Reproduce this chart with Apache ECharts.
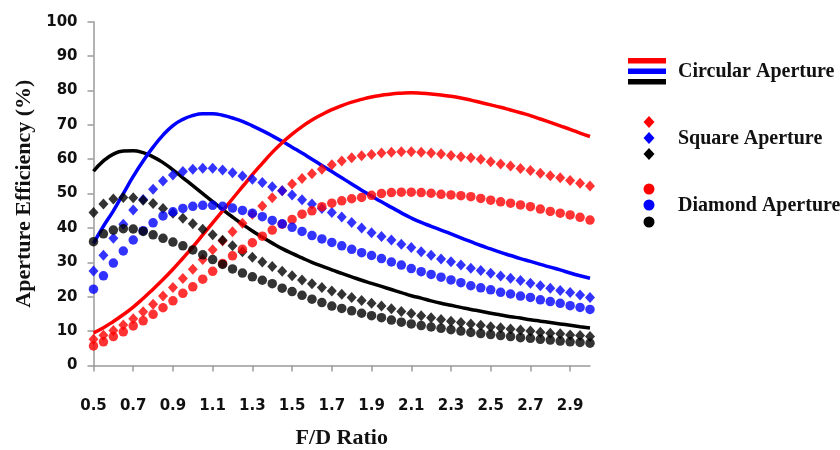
<!DOCTYPE html>
<html>
<head>
<meta charset="utf-8">
<script src="https://cdn.jsdelivr.net/npm/echarts@6/dist/echarts.min.js"></script>
<style>
html,body{margin:0;padding:0;background:#fff;}
#chart{width:840px;height:450px;}
</style>
</head>
<body>
<div id="chart"></div>
<script>
// F/D ratio categories (0.5 to 3.0, step 0.05)
const fdRatio = ['0.5','0.55','0.6','0.65','0.7','0.75','0.8','0.85','0.9','0.95',
  '1.0','1.05','1.1','1.15','1.2','1.25','1.3','1.35','1.4','1.45',
  '1.5','1.55','1.6','1.65','1.7','1.75','1.8','1.85','1.9','1.95',
  '2.0','2.05','2.1','2.15','2.2','2.25','2.3','2.35','2.4','2.45',
  '2.5','2.55','2.6','2.65','2.7','2.75','2.8','2.85','2.9','2.95','3.0'];

// Tick labels shown on the x axis
const xTickLabels = ['0.5','0.7','0.9','1.1','1.3','1.5','1.7','1.9','2.1','2.3','2.5','2.7','2.9'];
const yTicks = [0,10,20,30,40,50,60,70,80,90,100];

// Circular aperture (solid lines)
const circRed = [9.5,11,12.8,14.8,17,19.5,22.2,25,28,31.2,
  34.5,38,41.5,45,48.5,52,55.5,58.8,62,64.8,
  67.3,69.5,71.4,73,74.4,75.6,76.6,77.4,78.1,78.6,
  79,79.2,79.3,79.2,79,78.7,78.3,77.8,77.2,76.5,
  75.8,75.1,74.3,73.5,72.7,71.7,70.7,69.7,68.7,67.6,66.6];
const circBlue = [35.5,40.5,45,50,55,59.5,63.5,67,69.8,71.6,
  72.7,73.2,73.2,72.8,72,71,69.7,68.3,66.8,65.2,
  63.5,61.8,60,58.2,56.4,54.6,52.8,51,49.3,47.6,
  46,44.4,42.9,41.6,40.5,39.4,38.3,37.1,36,34.9,
  33.9,32.9,32,31.1,30.3,29.4,28.6,27.8,26.9,26.1,25.4];
const circBlack = [56.5,59.5,61.5,62.4,62.5,61.9,60.7,59,56.9,54.6,
  52.3,50,47.7,45.4,43.2,41.1,39.1,37.3,35.6,34,
  32.6,31.3,30,28.9,27.8,26.8,25.8,24.8,23.9,23,
  22.1,21.2,20.3,19.6,18.8,18.1,17.5,16.9,16.3,15.8,
  15.2,14.7,14.2,13.8,13.3,12.9,12.5,12.1,11.7,11.3,10.9];

// Square aperture (diamond markers)
const sqRed = [7.6,8.8,10.2,11.8,13.6,15.6,17.8,20.2,22.7,25.3,
  28,30.8,33.7,36.2,38.9,41.4,44,46.4,48.8,50.8,
  52.8,54.4,55.8,57.1,58.4,59.5,60.4,61,61.4,61.8,
  62,62.2,62.2,62,61.8,61.5,61.1,60.7,60.4,60,
  59.3,58.6,58,57.3,56.7,55.9,55.2,54.6,53.8,53,52.2];
const sqBlue = [27.5,32.1,37,41.1,45.2,48.3,51.3,53.7,55.4,56.4,
  57.1,57.4,57.4,56.9,56.1,55.1,54.2,53.2,52,50.8,
  49.6,48.2,47,45.7,44.5,43.2,41.6,40,38.6,37.5,
  36.5,35.3,34.3,33.1,32.1,31,30.2,29.2,28.3,27.6,
  26.8,26,25.4,24.7,23.9,23.2,22.5,21.8,21.2,20.5,19.8];
const sqBlack = [44.5,47,48.4,48.9,48.8,48.1,47.1,45.7,44.3,42.8,
  41.2,39.6,38,36.4,34.8,33.1,31.5,30.1,28.8,27.4,
  26.1,24.9,23.8,22.7,21.7,20.7,19.8,18.9,18.1,17.3,
  16.5,15.7,15.1,14.5,13.9,13.4,12.9,12.5,12.1,11.7,
  11.3,11,10.6,10.3,10,9.7,9.4,9.2,8.9,8.7,8.4];

// Diamond aperture (circle markers)
const dmRed = [5.7,6.9,8.4,9.8,11.5,13,14.9,16.8,18.8,21,
  22.9,25.1,27.4,29.7,31.9,33.8,35.7,37.6,39.4,41.1,
  42.5,44,45,46.2,47.2,47.9,48.5,48.9,49.5,50,
  50.3,50.4,50.4,50.3,50.1,49.8,49.6,49.4,49.1,48.6,
  48.1,47.6,47.2,46.7,46.2,45.5,44.8,44.3,43.8,43.1,42.3];
const dmBlue = [22.2,26.1,29.8,33.3,36.5,39.2,41.5,43.5,44.7,45.7,
  46.3,46.6,46.6,46.3,45.8,45.1,44.3,43.3,42.2,41.2,
  40.2,39,37.8,36.8,35.8,34.8,33.8,32.8,32,31.1,
  30.1,29.2,28.2,27.3,26.5,25.7,24.9,24.1,23.2,22.6,
  22,21.3,20.8,20.2,19.8,19.1,18.6,18.1,17.4,16.9,16.3];
const dmBlack = [36,38.3,39.4,39.8,39.7,39,38,37,35.9,34.8,
  33.6,32.2,30.8,29.4,28.1,26.9,25.8,24.8,23.8,22.5,
  21.5,20.4,19.3,18.3,17.3,16.6,15.9,15.2,14.5,13.9,
  13.2,12.6,12.1,11.6,11.2,10.8,10.4,10,9.6,9.3,
  9,8.7,8.4,8.1,7.9,7.6,7.4,7.1,6.9,6.7,6.5];

const legendLabels = ['Circular Aperture','Square Aperture','Diamond Aperture'];

const RED = '#ff0000', BLUE = '#0000ff', BLACK = '#000000';
const serif = '"Liberation Serif", "Times New Roman", serif';
const sans = '"DejaVu Sans", Verdana, sans-serif';

function lineSeries(name, data, color){
  return {name:name, type:'line', data:data, smooth:true, showSymbol:false,
    lineStyle:{color:color, width:3.5}, itemStyle:{color:color}, z:2, silent:true};
}
function dotSeries(name, data, color, sym, size){
  return {name:name, type:'scatter', data:data, symbol:sym, symbolSize:size,
    itemStyle:{color:color}, z:3, silent:true};
}
function isTickCat(idx){ return xTickLabels.indexOf(fdRatio[idx]) >= 0; }

const chart = echarts.init(document.getElementById('chart'), null, {renderer:'canvas'});

const legendX = 628, dotX = 649, textX = 678;
const graphics = [
  {type:'rect', shape:{x:legendX, y:58, width:38, height:5.5}, style:{fill:RED}},
  {type:'rect', shape:{x:legendX, y:68.5, width:38, height:5.5}, style:{fill:BLUE}},
  {type:'rect', shape:{x:legendX, y:79, width:38, height:5.5}, style:{fill:BLACK}},
  {type:'text', x:textX, y:72, style:{text:legendLabels[0], font:'bold 20px '+serif, fill:'#111', verticalAlign:'middle'}},
  {type:'polygon', shape:{points:[[dotX,116],[dotX+5.5,122],[dotX,128],[dotX-5.5,122]]}, style:{fill:RED}},
  {type:'polygon', shape:{points:[[dotX,132],[dotX+5.5,138],[dotX,144],[dotX-5.5,138]]}, style:{fill:BLUE}},
  {type:'polygon', shape:{points:[[dotX,148],[dotX+5.5,154],[dotX,160],[dotX-5.5,154]]}, style:{fill:BLACK}},
  {type:'text', x:textX, y:139, style:{text:legendLabels[1], font:'bold 20px '+serif, fill:'#111', verticalAlign:'middle'}},
  {type:'circle', shape:{cx:dotX, cy:189, r:5.5}, style:{fill:RED}},
  {type:'circle', shape:{cx:dotX, cy:205, r:5.5}, style:{fill:BLUE}},
  {type:'circle', shape:{cx:dotX, cy:222, r:5.5}, style:{fill:BLACK}},
  {type:'text', x:textX, y:206, style:{text:legendLabels[2], font:'bold 20px '+serif, fill:'#111', verticalAlign:'middle'}}
];

chart.setOption({
  backgroundColor:'#ffffff',
  animation:false,
  grid:{left:93.5, right:250, top:21.7, bottom:84.5, containLabel:false, outerBoundsMode:'none'},
  xAxis:{
    type:'category', data:fdRatio, boundaryGap:false,
    name:'F/D Ratio', nameLocation:'middle', nameGap:62,
    nameTextStyle:{fontFamily:serif, fontWeight:'bold', fontSize:22, color:'#111'},
    axisLine:{lineStyle:{color:'#9a9a9a', width:1.5}},
    axisTick:{show:true, interval:function(idx){return isTickCat(idx);}, length:6, lineStyle:{color:'#9a9a9a', width:1.5}},
    axisLabel:{interval:function(idx){return isTickCat(idx);}, hideOverlap:false, margin:33, fontFamily:sans, fontWeight:'bold', fontSize:15, color:'#111'},
    splitLine:{show:false}
  },
  yAxis:{
    type:'value', min:yTicks[0], max:yTicks[yTicks.length-1], interval:10,
    name:'Aperture Efficiency (%)', nameLocation:'middle', nameGap:58,
    nameTextStyle:{fontFamily:serif, fontWeight:'bold', fontSize:22, color:'#111'},
    axisLine:{show:true, lineStyle:{color:'#9a9a9a', width:1.5}},
    axisTick:{show:true, length:6, lineStyle:{color:'#9a9a9a', width:1.5}},
    axisLabel:{margin:16, fontFamily:sans, fontWeight:'bold', fontSize:15, color:'#111'},
    splitLine:{show:false}
  },
  series:[
    dotSeries('Square Red', sqRed, RED, 'diamond', [10,11]),
    dotSeries('Square Blue', sqBlue, BLUE, 'diamond', [10,11]),
    dotSeries('Square Black', sqBlack, BLACK, 'diamond', [10,11]),
    dotSeries('Diamond Red', dmRed, RED, 'circle', 9.5),
    dotSeries('Diamond Blue', dmBlue, BLUE, 'circle', 9.5),
    dotSeries('Diamond Black', dmBlack, BLACK, 'circle', 9.5),
    lineSeries('Circular Black', circBlack, BLACK),
    lineSeries('Circular Blue', circBlue, BLUE),
    lineSeries('Circular Red', circRed, RED)
  ],
  graphic:graphics
});
</script>
</body>
</html>
